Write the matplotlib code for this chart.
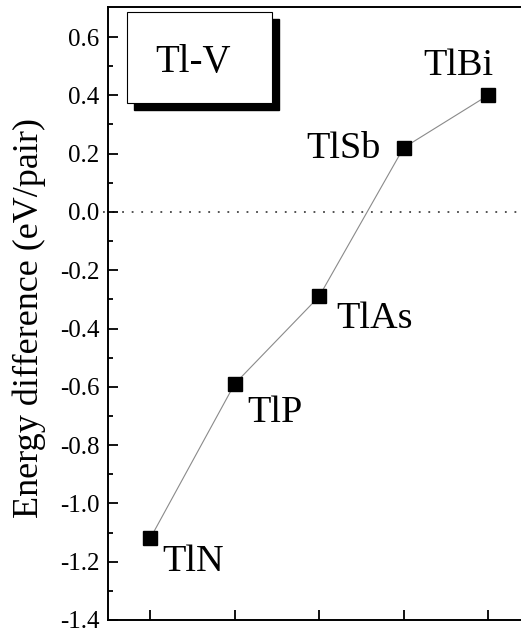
import matplotlib
matplotlib.use("Agg")
import matplotlib.pyplot as plt
from matplotlib.patches import Rectangle

plt.rcParams["font.family"] = ["Liberation Serif", "DejaVu Serif"]

compounds = ["TlN", "TlP", "TlAs", "TlSb", "TlBi"]
energy = [-1.12, -0.59, -0.29, 0.22, 0.40]
yticks = [-1.4, -1.2, -1.0, -0.8, -0.6, -0.4, -0.2, 0.0, 0.2, 0.4, 0.6]

# label placement (pixels from marker centre) and horizontal alignment
label_offsets = {
    "TlN": (12, -33, "left"),
    "TlP": (13, -38, "left"),
    "TlAs": (17, -32, "left"),
    "TlSb": (-23, -10, "right"),
    "TlBi": (5, 20, "right"),
}

W, H = 521, 632
fig = plt.figure(figsize=(W / 100, H / 100), dpi=100)
ax = fig.add_axes([108 / W, 12 / H, 1 - 108 / W, 613 / H])

x = list(range(len(compounds)))
ax.plot(x, energy, color="#8a8a8a", lw=0.8, zorder=2)
ax.plot(x, energy, ls="none", marker="s", ms=10, color="black", zorder=3)

ax.axhline(0, xmin=-0.012, xmax=1, color="#444444", lw=1.3,
           ls=(0, (1, 4.3)), clip_on=False, zorder=1)

for name, xi, yi in zip(compounds, x, energy):
    dx, dy, ha = label_offsets[name]
    ax.annotate(name, (xi, yi), xytext=(dx, dy), textcoords="offset pixels",
                ha=ha, va="baseline", fontsize=27.5)

ax.set_xlim(-0.5, 4.39)
ax.set_ylim(-1.4, 0.703)
ax.set_xticks(x)
ax.set_xticklabels([])
ax.set_yticks(yticks)
ax.set_yticklabels([f"{v:.1f}" for v in yticks])
ax.set_yticks([v + 0.1 for v in yticks[:-1]], minor=True)
ax.tick_params(axis="both", which="major", direction="in", length=7,
               width=1.3, labelsize=18, pad=6)
ax.tick_params(axis="y", which="minor", direction="in", length=3.6, width=1.3)
ax.spines["right"].set_visible(False)
for side in ["left", "bottom", "top"]:
    ax.spines[side].set_linewidth(1.4)

ax.set_ylabel("Energy difference (eV/pair)", fontsize=26)
ax.yaxis.set_label_coords(-0.15, 0.492)

# framed title box with a drop shadow
bx, by, bw, bh, sh = 127, 12, 145, 91, 7
fig.patches.append(Rectangle(((bx + sh) / W, 1 - (by + bh + sh) / H), bw / W, bh / H,
                             transform=fig.transFigure, facecolor="black",
                             edgecolor="black", zorder=5))
fig.patches.append(Rectangle((bx / W, 1 - (by + bh) / H), bw / W, bh / H,
                             transform=fig.transFigure, facecolor="white",
                             edgecolor="black", lw=0.8, zorder=6))
fig.text(193 / W, 1 - 72 / H, "Tl-V", ha="center", va="baseline",
         fontsize=28, zorder=7)

fig.savefig("out.png", dpi=100)
